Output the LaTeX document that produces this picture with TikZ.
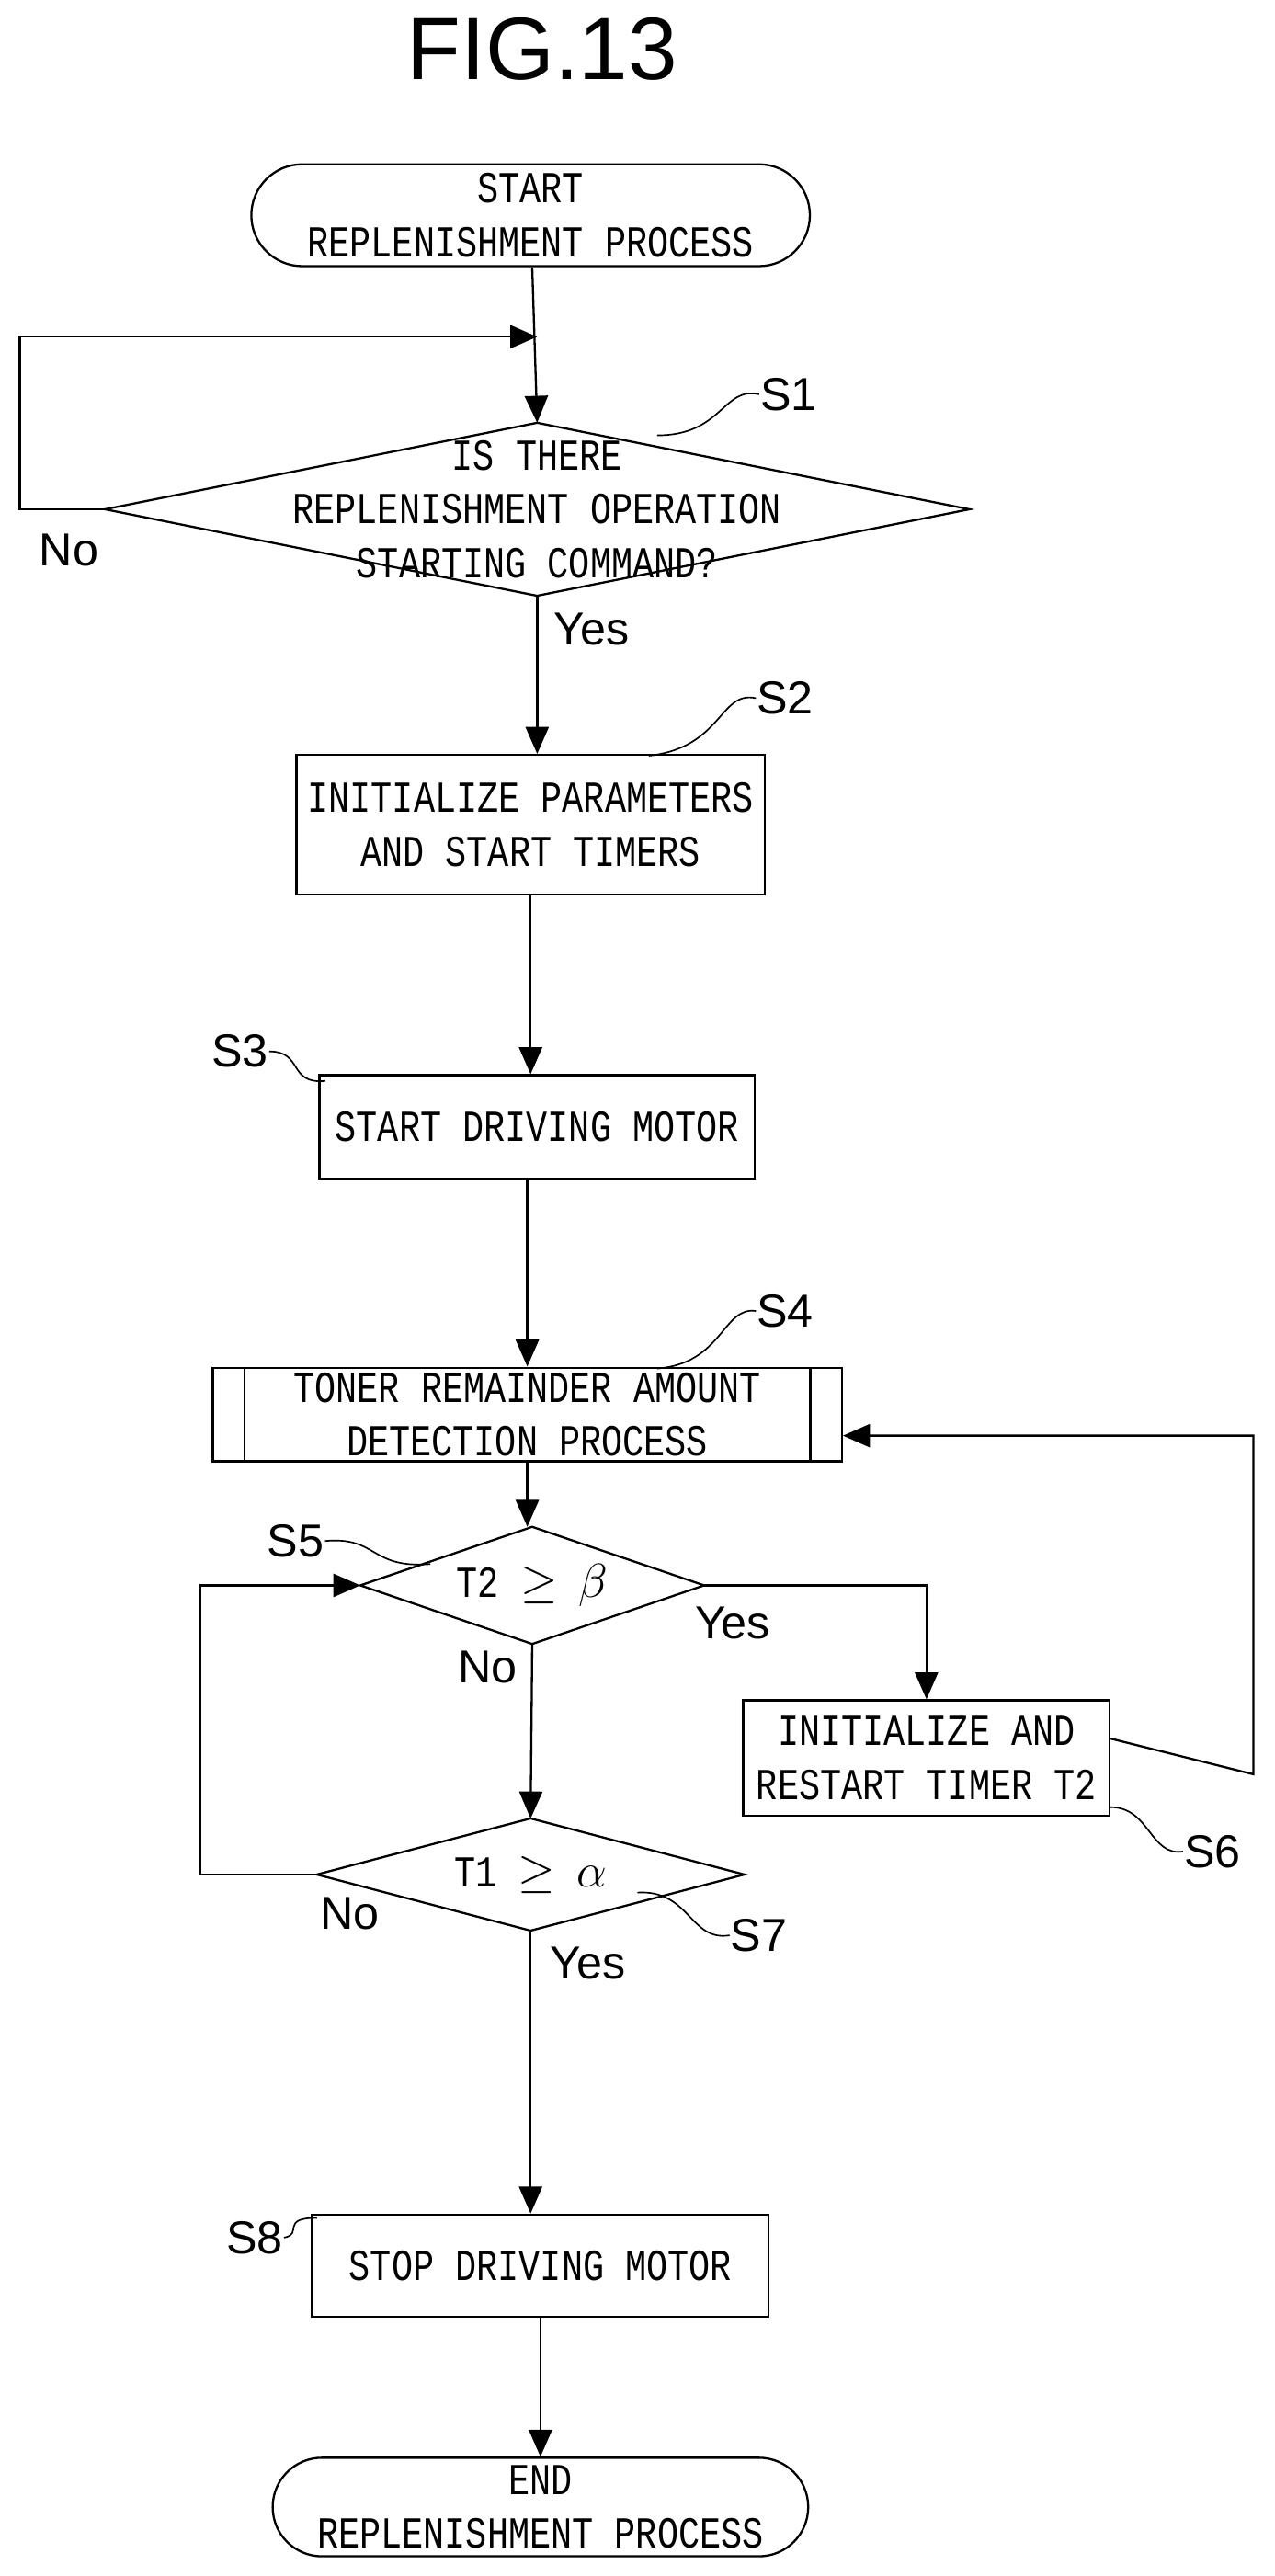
\documentclass[tikz,border=0pt]{standalone}
\usepackage{fontspec}
\setmainfont{Liberation Sans}
\newfontfamily\boxfont[FakeStretch=0.8]{Liberation Mono}
\usetikzlibrary{arrows.meta,shapes.misc,positioning}
\begin{document}
\begin{tikzpicture}[x=0.03cm,y=-0.03cm,
    line width=1.1pt,
    >={Triangle[length=14pt,width=12pt]},
    every node/.style={font=\boxfont\fontsize{23}{28}\selectfont,align=center,inner sep=0pt},
    proc/.style={rectangle,draw},
    term/.style={rounded rectangle,draw},
    dec/.style={rectangle},
    lab/.style={font=\fontsize{24}{28}\selectfont}]
  \useasboundingbox (0,0) rectangle (776,1568);
  \node[font=\fontsize{46}{50}\selectfont] (title) at (330,30) {FIG.13};
  % boxes
  \node[term,minimum width=10.2cm,minimum height=1.86cm] (start) at (323,131) {START\\REPLENISHMENT PROCESS};
  \node[dec,minimum width=15.75cm,minimum height=3.12cm] (s1) at (327,310) {IS THERE\\REPLENISHMENT OPERATION\\STARTING COMMAND?};
  \node[proc,minimum width=8.55cm,minimum height=2.55cm] (s2) at (323,502) {INITIALIZE PARAMETERS\\AND START TIMERS};
  \node[proc,minimum width=7.95cm,minimum height=1.89cm] (s3) at (327,686) {START DRIVING MOTOR};
  \node[proc,minimum width=11.49cm,minimum height=1.71cm] (s4) at (321,861) {TONER REMAINDER AMOUNT\\DETECTION PROCESS};
  \node[dec,minimum width=6.24cm,minimum height=2.1cm] (s5) at (324,965) {T2 $\geq$ $\beta$};
  \node[proc,minimum width=6.69cm,minimum height=2.1cm] (s6) at (564,1070) {INITIALIZE AND\\RESTART TIMER T2};
  \node[dec,minimum width=7.77cm,minimum height=2.01cm] (s7) at (323,1141) {T1 $\geq$ $\alpha$};
  \node[proc,minimum width=8.34cm,minimum height=1.86cm] (s8) at (329,1379) {STOP DRIVING MOTOR};
  \node[term,minimum width=9.78cm,minimum height=1.8cm] (end) at (329,1526) {END\\REPLENISHMENT PROCESS};
  % decision outlines
  \foreach \d in {s1,s5,s7}
    \draw (\d.north) -- (\d.east) -- (\d.south) -- (\d.west) -- cycle;
  \draw ([xshift=17]s4.north west) -- ([xshift=17]s4.south west)
        ([xshift=-17]s4.north east) -- ([xshift=-17]s4.south east);
  % connectors
  \coordinate (j1) at (s1.north |- 0,205);
  \draw[->] (start) -- (s1.north);
  \draw[->] (s1.west) -- (12,310) |- (j1);
  \draw[->] (s1.south) -- (s2.north -| s1.south);
  \draw[->] (s2) -- (s3.north -| s2.south);
  \draw[->] (s3.south -| s4.north) -- (s4.north);
  \draw[->] (s4.south) -- (s5.north -| s4.south);
  \draw[->] (s5.east) -| (s6.north);
  \draw[->] ([yshift=10]s6.east) -- (763,1080) |- ([yshift=-11]s4.east);
  \draw[->] (s5.south) -- (s7.north);
  \draw[->] (s7.west) -- (122,1141) |- (s5.west);
  \draw[->] (s7.south) -- (s8.north -| s7.south);
  \draw[->] (s8.south) -- (end.north -| s8.south);
  % yes / no
  \node[lab] (n1) at (42,335) {No};
  \node[lab] (y1) at (360,383) {Yes};
  \node[lab] (y5) at (446,988) {Yes};
  \node[lab] (n5) at (297,1015) {No};
  \node[lab] (n7) at (213,1165) {No};
  \node[lab] (y7) at (358,1195) {Yes};
  % step labels
  \node[lab] (l1) at (480,240) {S1};
  \node[lab] (l2) at (478,425) {S2};
  \node[lab] (l3) at (146,640) {S3};
  \node[lab] (l4) at (478,798) {S4};
  \node[lab] (l5) at (180,938) {S5};
  \node[lab] (l6) at (738,1127) {S6};
  \node[lab] (l7) at (462,1178) {S7};
  \node[lab] (l8) at (155,1362) {S8};
  \draw[line width=0.8pt] (l1.west) .. controls (440,235) and (440,265) .. (400,265);
  \draw[line width=0.8pt] (l2.west) .. controls (438,420) and (440,455) .. (395,460);
  \draw[line width=0.8pt] (l3.east) .. controls (185,640) and (175,660) .. (198,658);
  \draw[line width=0.8pt] (l4.west) .. controls (440,795) and (440,830) .. (400,833);
  \draw[line width=0.8pt] (l5.east) .. controls (230,935) and (225,955) .. (262,952);
  \draw[line width=0.8pt] (l6.west) .. controls (700,1130) and (700,1100) .. (676,1100);
  \draw[line width=0.8pt] (l7.west) .. controls (420,1182) and (420,1150) .. (388,1152);
  \draw[line width=0.8pt] (l8.east) .. controls (185,1360) and (170,1350) .. (193,1350);
\end{tikzpicture}
\end{document}
